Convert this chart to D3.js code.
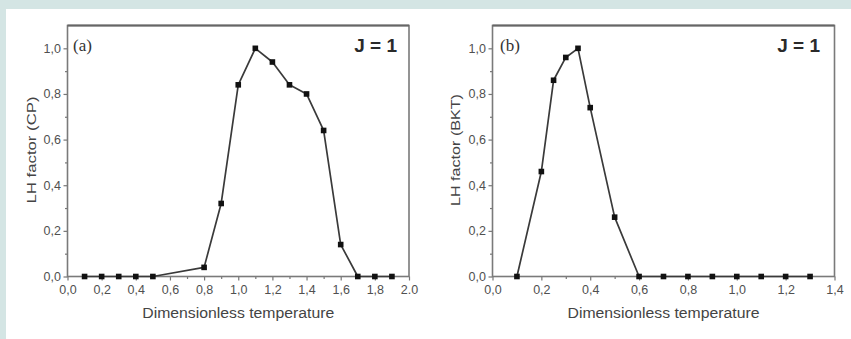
<!DOCTYPE html>
<html>
<head>
<meta charset="utf-8">
<script src="https://cdn.jsdelivr.net/npm/d3@7"></script>
<style>
  body { margin: 0; background: #fff; }
  svg { display: block; }
</style>
</head>
<body>
<script>
'use strict';

// panel (a): critical point
const tempA = [0.1, 0.2, 0.3, 0.4, 0.5, 0.8, 0.9, 1.0, 1.1, 1.2, 1.3, 1.4, 1.5, 1.6, 1.7, 1.8, 1.9];
const lhA = [0, 0, 0, 0, 0, 0.04, 0.32, 0.84, 1.0, 0.94, 0.84, 0.80, 0.64, 0.14, 0, 0, 0];

// panel (b): BKT
const tempB = [0.1, 0.2, 0.25, 0.3, 0.35, 0.4, 0.5, 0.6, 0.7, 0.8, 0.9, 1.0, 1.1, 1.2, 1.3];
const lhB = [0, 0.46, 0.86, 0.96, 1.0, 0.74, 0.26, 0, 0, 0, 0, 0, 0, 0, 0];

// tick labels
const xTicksA = [0, 0.2, 0.4, 0.6, 0.8, 1.0, 1.2, 1.4, 1.6, 1.8, 2.0];
const xLabelsA = ["0,0", "0,2", "0,4", "0,6", "0,8", "1,0", "1,2", "1,4", "1,6", "1,8", "2.0"];
const xTicksB = [0, 0.2, 0.4, 0.6, 0.8, 1.0, 1.2, 1.4];
const xLabelsB = ["0,0", "0,2", "0,4", "0,6", "0,8", "1,0", "1,2", "1,4"];
const yTicks = [0, 0.2, 0.4, 0.6, 0.8, 1.0];
const yLabels = ["0,0", "0,2", "0,4", "0,6", "0,8", "1,0"];

const W = 851, H = 339;

const svg = d3.select('body').append('svg')
  .attr('width', W)
  .attr('height', H);

// page background: teal strip top and left, white card
svg.append('rect').attr('width', W).attr('height', H).attr('fill', '#d4e5e4');
svg.append('rect').attr('x', 6).attr('y', 9).attr('width', W - 6).attr('height', H - 9).attr('fill', '#fff');

drawPanel({
  left: 67.5, right: 409, top: 25.5, bottom: 276.5,
  xMax: 2.0, xTicks: xTicksA, xLabels: xLabelsA,
  xs: tempA, ys: lhA,
  tag: '(a)', tagX: 73,
  jRight: 397,
  yTitle: 'LH factor (CP)', yTitleX: 36, yTitleLen: 107
});

drawPanel({
  left: 492.5, right: 834.5, top: 25.5, bottom: 276.5,
  xMax: 1.4, xTicks: xTicksB, xLabels: xLabelsB,
  xs: tempB, ys: lhB,
  tag: '(b)', tagX: 500,
  jRight: 820,
  yTitle: 'LH factor (BKT)', yTitleX: 460, yTitleLen: 112
});

function drawPanel(p) {
  const g = svg.append('g');

  const xScale = d3.scaleLinear().domain([0, p.xMax]).range([p.left, p.right]);
  const yScale = d3.scaleLinear().domain([0, 1.1]).range([p.bottom, p.top]);

  // minor ticks at odd tenths
  const xMinor = d3.range(1, Math.round(p.xMax * 10), 2).map(d => d / 10);
  const yMinor = [0.1, 0.3, 0.5, 0.7, 0.9];

  const xMinorAxis = d3.axisBottom(xScale).tickValues(xMinor).tickSize(2.5).tickFormat('').tickSizeOuter(0);
  const yMinorAxis = d3.axisLeft(yScale).tickValues(yMinor).tickSize(2.5).tickFormat('').tickSizeOuter(0);

  const xAxis = d3.axisBottom(xScale)
    .tickValues(p.xTicks)
    .tickFormat((d, i) => p.xLabels[i])
    .tickSize(4).tickPadding(4.5).tickSizeOuter(0);
  const yAxis = d3.axisLeft(yScale)
    .tickValues(yTicks)
    .tickFormat((d, i) => yLabels[i])
    .tickSize(4).tickPadding(2.5).tickSizeOuter(0);

  [[xMinorAxis, 'x'], [xAxis, 'x'], [yMinorAxis, 'y'], [yAxis, 'y']].forEach(([ax, k]) => {
    const a = g.append('g')
      .attr('transform', k === 'x' ? `translate(0,${p.bottom})` : `translate(${p.left},0)`)
      .call(ax);
    a.select('.domain').remove();
    a.selectAll('line').attr('stroke', '#777').attr('stroke-width', 1.2);
    a.selectAll('text')
      .attr('fill', '#505050')
      .style('font-family', '"Liberation Sans", Arial, sans-serif')
      .style('font-size', '12.5px');
  });

  // frame
  g.append('rect')
    .attr('x', p.left).attr('y', p.top)
    .attr('width', p.right - p.left).attr('height', p.bottom - p.top)
    .attr('fill', 'none').attr('stroke', '#7a7a7a').attr('stroke-width', 1.6);
  g.append('line')
    .attr('x1', p.left).attr('x2', p.right).attr('y1', p.top).attr('y2', p.top)
    .attr('stroke', '#666').attr('stroke-width', 2);

  // data line and square markers
  const pts = p.xs.map((x, i) => [x, p.ys[i]]);
  const line = d3.line()
    .x(d => xScale(d[0]))
    .y(d => yScale(d[1]));
  g.append('path')
    .datum(pts)
    .attr('fill', 'none')
    .attr('stroke', '#3a3a3a')
    .attr('stroke-width', 1.7)
    .attr('stroke-linejoin', 'round')
    .attr('d', line);
  g.selectAll('rect.pt')
    .data(pts)
    .enter().append('rect')
    .attr('class', 'pt')
    .attr('x', d => xScale(d[0]) - 2.8)
    .attr('y', d => yScale(d[1]) - 2.8)
    .attr('width', 5.6).attr('height', 5.6)
    .attr('fill', '#111');

  // panel tag and J label
  g.append('text')
    .attr('x', p.tagX).attr('y', 51)
    .attr('fill', '#333')
    .style('font-family', '"Liberation Serif", "Times New Roman", serif')
    .style('font-size', '17px')
    .text(p.tag);
  g.append('text')
    .attr('x', p.jRight).attr('y', 52)
    .attr('text-anchor', 'end')
    .attr('fill', '#2a2a2a')
    .style('font-family', '"Liberation Sans", Arial, sans-serif')
    .style('font-size', '19px')
    .style('font-weight', 'bold')
    .text('J = 1');

  // axis titles
  g.append('text')
    .attr('x', (p.left + p.right) / 2).attr('y', 318)
    .attr('text-anchor', 'middle')
    .attr('fill', '#444')
    .attr('textLength', 192)
    .attr('lengthAdjust', 'spacingAndGlyphs')
    .style('font-family', '"Liberation Sans", Arial, sans-serif')
    .style('font-size', '14px')
    .text('Dimensionless temperature');
  g.append('text')
    .attr('transform', `translate(${p.yTitleX},150)rotate(-90)`)
    .attr('text-anchor', 'middle')
    .attr('fill', '#444')
    .attr('textLength', p.yTitleLen)
    .attr('lengthAdjust', 'spacingAndGlyphs')
    .style('font-family', '"Liberation Sans", Arial, sans-serif')
    .style('font-size', '13.5px')
    .text(p.yTitle);
}
</script>
</body>
</html>
